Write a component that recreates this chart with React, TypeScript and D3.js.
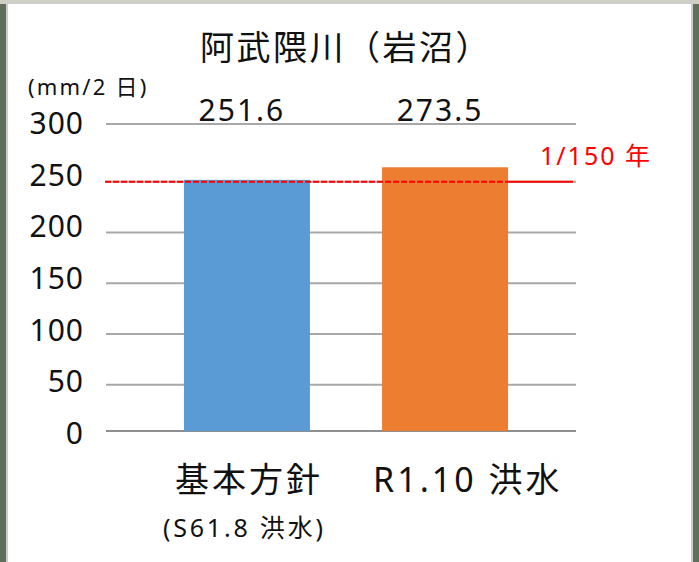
import React, { Component } from "react";
import * as d3 from "d3";

const categories = ["基本方針", "R1.10 洪水"];
const subLabels = ["(S61.8 洪水)", ""];
// bar heights as drawn in the figure
const rainfall = [251.6, 262.5];
// numbers printed above the chart
const valueLabels = ["251.6", "273.5"];
const yTicks = [0, 50, 100, 150, 200, 250, 300];
const planLevel = 250;
const planLabel = "1/150 年";
const barColors = ["#5B9BD5", "#ED7D31"];

const FONT = "'Noto Sans', 'Noto Sans CJK JP', sans-serif";

class App extends Component {
  svgRef = React.createRef<SVGSVGElement>();

  componentDidMount() {
    this.renderChart();
  }

  componentDidUpdate() {
    this.renderChart();
  }

  renderChart() {
    const width = 699;
    const height = 562;
    const plot = { left: 106, right: 576, top: 124, bottom: 431 };

    const svg = d3.select(this.svgRef.current).attr("width", width).attr("height", height);
    svg.selectAll("*").remove();

    // slide background + white panel
    svg.append("rect").attr("width", width).attr("height", height).attr("fill", "#5f705a");
    svg.append("rect").attr("width", width).attr("height", 4).attr("fill", "#cfd0c4");
    svg
      .append("rect")
      .attr("x", 7)
      .attr("y", 3)
      .attr("width", 685)
      .attr("height", height)
      .attr("fill", "#ffffff")
      .attr("stroke", "#cdcdcd")
      .attr("stroke-width", 2);

    // the gridlines in the source image are not evenly spaced
    const y_scale = d3
      .scaleLinear()
      .domain([0, 50, 250, 300])
      .range([plot.bottom, 384.7, 181.7, plot.top]);
    // tick labels sit on an even spacing
    const label_scale = d3.scaleLinear().domain([0, 300]).range([433, 123]);
    const x_scale = d3
      .scaleBand()
      .domain(categories)
      .range([116, plot.right])
      .paddingInner(0.364)
      .paddingOuter(0.343);

    const g = svg.append("g");

    // grid lines
    g.selectAll(".grid")
      .data(yTicks)
      .join("line")
      .attr("class", "grid")
      .attr("x1", plot.left)
      .attr("x2", plot.right)
      .attr("y1", (d) => y_scale(d))
      .attr("y2", (d) => y_scale(d))
      .attr("stroke", (d) => (d === 0 ? "#8f8f8f" : "#a8a8a8"))
      .attr("stroke-width", 2);

    // y tick labels
    g.selectAll(".ytick")
      .data(yTicks)
      .join("text")
      .attr("class", "ytick")
      .attr("x", 84)
      .attr("y", (d) => label_scale(d) + 11)
      .attr("text-anchor", "end")
      .attr("font-family", FONT)
      .attr("font-size", 30)
      .attr("letter-spacing", 1)
      .attr("fill", "#111")
      .text((d) => d);

    // bars
    g.selectAll(".bar")
      .data(rainfall)
      .join("rect")
      .attr("class", "bar")
      .attr("x", (d, i) => x_scale(categories[i]))
      .attr("width", x_scale.bandwidth())
      .attr("y", (d) => y_scale(d))
      .attr("height", (d) => y_scale(0) - y_scale(d))
      .attr("fill", (d, i) => barColors[i]);

    // plan line (1/150)
    const lineY = y_scale(planLevel);
    const dashEnd = x_scale(categories[1]) + x_scale.bandwidth();
    g.append("line")
      .attr("x1", plot.left - 1)
      .attr("x2", dashEnd)
      .attr("y1", lineY)
      .attr("y2", lineY)
      .attr("stroke", "#ff0000")
      .attr("stroke-width", 2)
      .attr("stroke-dasharray", "6,2");
    g.append("line")
      .attr("x1", dashEnd)
      .attr("x2", plot.right - 3)
      .attr("y1", lineY)
      .attr("y2", lineY)
      .attr("stroke", "#ff0000")
      .attr("stroke-width", 2);
    g.append("text")
      .attr("x", 540)
      .attr("y", lineY - 17)
      .attr("font-family", FONT)
      .attr("font-size", 25)
      .attr("letter-spacing", 2)
      .attr("fill", "#ff0000")
      .text(planLabel);

    // values above the chart
    g.selectAll(".val")
      .data(valueLabels)
      .join("text")
      .attr("class", "val")
      .attr("x", (d, i) => x_scale(categories[i]) + x_scale.bandwidth() / 2 - 5)
      .attr("y", plot.top - 3)
      .attr("text-anchor", "middle")
      .attr("font-family", FONT)
      .attr("font-size", 30)
      .attr("letter-spacing", 2)
      .attr("fill", "#111")
      .text((d) => d);

    // category labels
    g.selectAll(".cat")
      .data(categories)
      .join("text")
      .attr("class", "cat")
      .attr("x", (d) => x_scale(d) - 9)
      .attr("y", 492)
      .attr("font-family", FONT)
      .attr("font-size", 34)
      .attr("letter-spacing", 3)
      .attr("fill", "#111")
      .text((d) => d);

    g.selectAll(".sub")
      .data(subLabels)
      .join("text")
      .attr("class", "sub")
      .attr("x", (d, i) => x_scale(categories[i]) - 21)
      .attr("y", 537)
      .attr("font-family", FONT)
      .attr("font-size", 25)
      .attr("letter-spacing", 2.8)
      .attr("fill", "#111")
      .text((d) => d);

    // title and unit
    svg
      .append("text")
      .attr("x", 200)
      .attr("y", 60)
      .attr("font-family", FONT)
      .attr("font-size", 34)
      .attr("letter-spacing", 2.5)
      .attr("fill", "#111")
      .text("阿武隈川（岩沼）");

    svg
      .append("text")
      .attr("x", 28)
      .attr("y", 95)
      .attr("font-family", FONT)
      .attr("font-size", 22)
      .attr("letter-spacing", 2.2)
      .attr("fill", "#111")
      .text("(mm/2 日)");
  }

  render() {
    return (
      <div style={{ position: "absolute", left: 0, top: 0 }}>
        <svg ref={this.svgRef} style={{ display: "block" }}></svg>
      </div>
    );
  }
}

export default App;
